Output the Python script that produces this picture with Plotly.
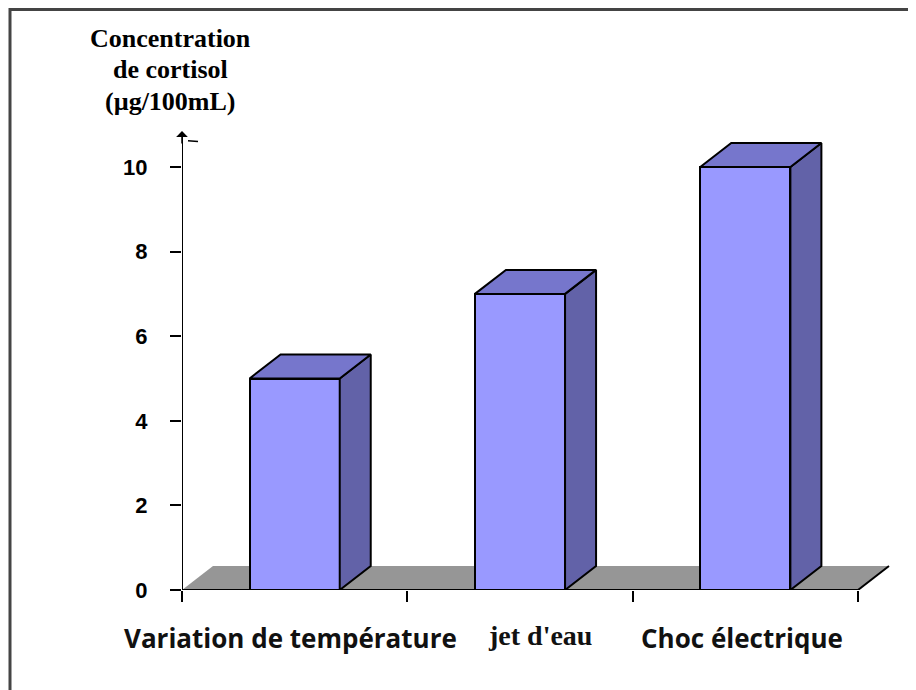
import plotly.graph_objects as go

# ---- data ----
categories = ["Variation de température", "jet d'eau", "Choc électrique"]
values = [5, 7, 10]
y_ticks = [0, 2, 4, 6, 8, 10]
title_lines = ["Concentration", "de cortisol", "(µg/100mL)"]

# ---- layout constants (pixels, in page coordinates) ----
OFF = 8                  # default body margin of the html page
W, H = 916 - OFF, 690 - OFF
AXIS_X, AXIS_Y = 182, 590  # page pixel of y axis / zero line
PX_CAT = 225.33          # pixels per category
PX_UNIT = 42.3           # pixels per y unit
ML = AXIS_X - OFF
MT = 117
MB = H - (AXIS_Y - OFF)
PLOT_W = 721
MR = W - ML - PLOT_W
PLOT_H = H - MT - MB
X0 = -0.5
X1 = X0 + PLOT_W / PX_CAT
Y1 = PLOT_H / PX_UNIT
DX = 31 / PX_CAT         # 3D depth offsets in data units
DY = 24 / PX_UNIT
BW = 0.4

FRONT = "#9999FF"
TOP = "#7676CC"
SIDE = "#6262A8"
FLOOR = "#969696"

xs = list(range(len(categories)))
n = len(categories)

fig = go.Figure()

# front faces
fig.add_trace(go.Bar(
    x=xs, y=values, width=BW,
    marker=dict(color=FRONT, line=dict(color="black", width=2)),
    hoverinfo="skip", showlegend=False,
))

# side & top faces
for xi, v in zip(xs, values):
    r = xi + BW / 2
    l = xi - BW / 2
    fig.add_trace(go.Scatter(
        x=[r, r + DX, r + DX, r, r], y=[0, DY, v + DY, v, 0],
        mode="lines", fill="toself", fillcolor=SIDE,
        line=dict(color="black", width=2), hoverinfo="skip", showlegend=False))
    fig.add_trace(go.Scatter(
        x=[l, r, r + DX, l + DX, l], y=[v, v, v + DY, v + DY, v],
        mode="lines", fill="toself", fillcolor=TOP,
        line=dict(color="black", width=2), hoverinfo="skip", showlegend=False))

xl, xr = -0.5, n - 0.5


def px_to_paper_x(px):
    return (px - OFF - ML) / PLOT_W


def px_to_paper_y(py):
    return (H - MB - (py - OFF)) / PLOT_H


shapes = [
    # floor
    dict(type="path", layer="below", xref="x", yref="y",
         path=f"M {xl},0 L {xr},0 L {xr+DX},{DY} L {xl+DX},{DY} Z",
         fillcolor=FLOOR, line=dict(width=0)),
    dict(type="line", xref="x", yref="y", x0=xr, y0=0, x1=xr + DX, y1=DY,
         line=dict(color="black", width=2)),
    # x axis line
    dict(type="line", xref="x", yref="y", x0=xl, y0=0, x1=xr, y1=0,
         line=dict(color="black", width=2)),
    # y axis line
    dict(type="line", xref="x", yref="y", x0=xl, y0=0, x1=xl, y1=10.72,
         line=dict(color="black", width=2)),
    # small flick at the top of the axis
    dict(type="line", xref="x", yref="y", x0=xl + 6 / PX_CAT, y0=10.62,
         x1=xl + 16 / PX_CAT, y1=10.6, line=dict(color="black", width=1.5)),
    # frame (top and left visible)
    dict(type="rect", xref="paper", yref="paper",
         x0=px_to_paper_x(10), x1=px_to_paper_x(940),
         y0=px_to_paper_y(720), y1=px_to_paper_y(9.5),
         line=dict(color="#444444", width=3)),
]

annotations = []
# arrow head at top of y axis
annotations.append(dict(x=xl, y=10.85, xref="x", yref="y", ax=0, ay=14,
                        axref="pixel", ayref="pixel", text="", showarrow=True,
                        arrowhead=1, arrowsize=1.3, arrowwidth=1.5,
                        arrowcolor="black"))
# title lines
for t, py in zip(title_lines, [39, 69, 101]):
    annotations.append(dict(x=px_to_paper_x(170), y=px_to_paper_y(py),
                            xref="paper", yref="paper", text=t, showarrow=False,
                            xanchor="center", yanchor="middle",
                            font=dict(family="Liberation Serif", size=26,
                                      color="black", weight="bold")))
# category labels
label_fonts = [
    dict(family="Open Sans", size=26, color="#111111", weight="bold"),
    dict(family="Liberation Serif", size=28, color="#111111", weight="bold"),
    dict(family="Open Sans", size=26, color="#111111", weight="bold"),
]
label_y = [638, 635, 638]
label_xshift = [-4, 20, -3]
for xi, cat, f, py, xs_ in zip(xs, categories, label_fonts, label_y, label_xshift):
    annotations.append(dict(x=xi, y=px_to_paper_y(py), xref="x", yref="paper",
                            text=cat, showarrow=False, xanchor="center",
                            yanchor="middle", font=f, xshift=xs_))

fig.update_layout(
    width=W, height=H,
    margin=dict(l=ML, r=MR, t=MT, b=MB, pad=0),
    paper_bgcolor="white", plot_bgcolor="white",
    bargap=0,
    xaxis=dict(range=[X0, X1], tickvals=[xl + k for k in range(n + 1)],
               showticklabels=False, ticks="outside", ticklen=11, tickwidth=2,
               tickcolor="black", showgrid=False, zeroline=False, showline=False,
               fixedrange=True),
    yaxis=dict(range=[0, Y1], tickvals=y_ticks, ticks="outside", ticklen=11,
               tickwidth=2, tickcolor="black", showgrid=False, zeroline=False,
               showline=False, ticklabelstandoff=18,
               tickfont=dict(family="Liberation Sans", size=22, color="black",
                             weight="bold"), fixedrange=True),
    shapes=shapes,
    annotations=annotations,
    showlegend=False,
)

fig.write_html("out.html")
